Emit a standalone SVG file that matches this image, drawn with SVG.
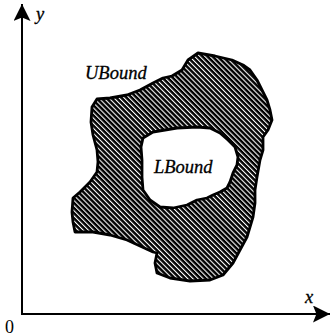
<svg xmlns="http://www.w3.org/2000/svg" width="330" height="336" viewBox="0 0 330 336">
<style>
.ax{stroke:#000;stroke-width:2;fill:none}
.lbl{font-family:"Liberation Serif",serif;font-style:italic;font-size:18.5px;fill:#000;stroke:#000;stroke-width:0.3}
.num{font-family:"Liberation Serif",serif;font-size:18px;fill:#000}
.blob{fill:url(#hatch);stroke:#000;stroke-width:2.8;stroke-linejoin:round;fill-rule:evenodd}
</style>
<defs>
<pattern id="hatch" patternUnits="userSpaceOnUse" width="3.6" height="4" patternTransform="rotate(-45)">
<rect width="3.6" height="4" fill="#000"/>
<rect x="0" y="0" width="1.1" height="4" fill="#fff"/>
</pattern>
<marker id="arr" viewBox="0 0 10 10" refX="10" refY="5" markerWidth="17" markerHeight="17" markerUnits="userSpaceOnUse" orient="auto">
<path d="M0,0 L10,5 L0,10 L2,5 Z" fill="#000"/>
</marker>
</defs>
<g id="connectors">
<path class="ax" d="M22,315 L22,4" marker-end="url(#arr)"/>
<path class="ax" d="M21,314 L330,314" marker-end="url(#arr)"/>
</g>
<g id="region">
<path class="blob" d="M97,99 L110,98 L127,95 L140,90 L153,83 L163,78 L172,76 L182,70 L188,60 L198,53 L215,56 L232,60 L243,65 L250,70 L257,80 L262,90 L267,100 L270,110 L272,120 L268,130 L263,137 L263,150 L260,160 L257,177 L255,190 L255,203 L253,217 L247,237 L240,250 L233,263 L223,275 L210,280 L190,281 L170,278 L157,273 L155,263 L157,253 L153,252 L140,246 L127,240 L110,235 L93,232 L75,232 L73,222 L72,212 L73,198 L80,192 L90,182 L97,172 L98,162 L97,150 L93,135 L91,122 L92,107 Z
M143,138 L153,132 L177,128 L197,127 L210,128 L220,133 L228,140 L235,147 L238,157 L237,165 L233,173 L230,182 L227,188 L220,192 L213,195 L207,198 L197,200 L187,205 L173,208 L160,207 L150,200 L143,190 L142,177 L142,160 L141,147 Z"/>
</g>
<g id="labels">
<text class="lbl" x="36" y="20">y</text>
<text class="lbl" x="305" y="303">x</text>
<text class="num" x="5" y="333">0</text>
<text class="lbl" x="85" y="79">UBound</text>
<text class="lbl" x="154" y="173">LBound</text>
</g>
</svg>
